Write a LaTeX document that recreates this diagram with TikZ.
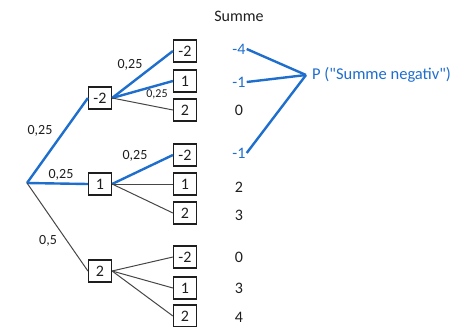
\documentclass[tikz,border=0pt]{standalone}
\usepackage{fontspec}
\setmainfont{Carlito}[Ligatures=TeXOff]
\definecolor{tblue}{RGB}{30,110,205}
\definecolor{tgray}{RGB}{70,70,70}
\definecolor{ttext}{RGB}{30,30,30}
\begin{document}
\begin{tikzpicture}[x=1pt,y=-1pt,
  box/.style={draw=ttext,line width=1.2pt,minimum width=23pt,minimum height=22pt,inner sep=0pt,font=\fontsize{16pt}{18pt}\selectfont,text=ttext},
  val/.style={font=\fontsize{16pt}{18pt}\selectfont,text=ttext,inner sep=1pt},
  bval/.style={val,text=tblue},
  prob/.style={font=\fontsize{14pt}{16pt}\selectfont,text=ttext,inner sep=0pt},
  sprob/.style={font=\fontsize{12pt}{14pt}\selectfont,text=ttext,inner sep=0pt},
  hi/.style={draw=tblue,line width=2.4pt},
  lo/.style={draw=tgray,line width=1pt}]
\useasboundingbox (0,0) rectangle (464,327);
\coordinate (r) at (27,183);
% level 1
\node[box] (a) at (100,98) {-2};
\node[box] (b) at (100,184) {1};
\node[box] (c) at (100,271) {2};
% level 2
\node[box] (a1) at (185,51) {-2};
\node[box] (a2) at (185,81) {1};
\node[box] (a3) at (185,110) {2};
\node[box] (b1) at (185,155) {-2};
\node[box] (b2) at (185,184) {1};
\node[box] (b3) at (185,213) {2};
\node[box] (c1) at (185,257) {-2};
\node[box] (c2) at (185,288) {1};
\node[box] (c3) at (185,316) {2};
% edges
\draw[hi] (r) -- (a.west);
\draw[hi] (r) -- (b.west);
\draw[lo] (r) -- (c.west);
\draw[hi] (a.east) -- (a1.west);
\draw[hi] (a.east) -- (a2.west);
\draw[lo] (a.east) -- (a3.west);
\draw[hi] (b.east) -- (b1.west);
\draw[lo] (b.east) -- (b2.west);
\draw[lo] (b.east) -- (b3.west);
\draw[lo] (c.east) -- (c1.west);
\draw[lo] (c.east) -- (c2.west);
\draw[lo] (c.east) -- (c3.west);
% probabilities
\node[prob] (p1) at (40,131) {0,25};
\node[prob] (p2) at (61,175) {0,25};
\node[prob] (p3) at (48,241) {0,5};
\node[prob] (p4) at (130,65) {0,25};
\node[sprob] (p5) at (157,94) {0,25};
\node[prob] (p6) at (135,156) {0,25};
% sums
\node[val] (sh) at (239,16) {Summe};
\node[bval] (s1) at (239,49) {-4};
\node[bval] (s2) at (239,82) {-1};
\node[val] (s3) at (239,110) {0};
\node[bval] (s4) at (239,153) {-1};
\node[val] (s5) at (239,187) {2};
\node[val] (s6) at (239,215) {3};
\node[val] (s7) at (239,257) {0};
\node[val] (s8) at (239,288) {3};
\node[val] (s9) at (239,317) {4};
% P
\coordinate (m) at (306,75);
\node[bval,anchor=west,font=\fontsize{16.5pt}{19pt}\selectfont] (P) at (311,75) {P ("Summe negativ")};
\draw[hi] (s1.east) -- (m);
\draw[hi] (s2.east) -- (m);
\draw[hi] (s4.east) -- (m);
\end{tikzpicture}
\end{document}
